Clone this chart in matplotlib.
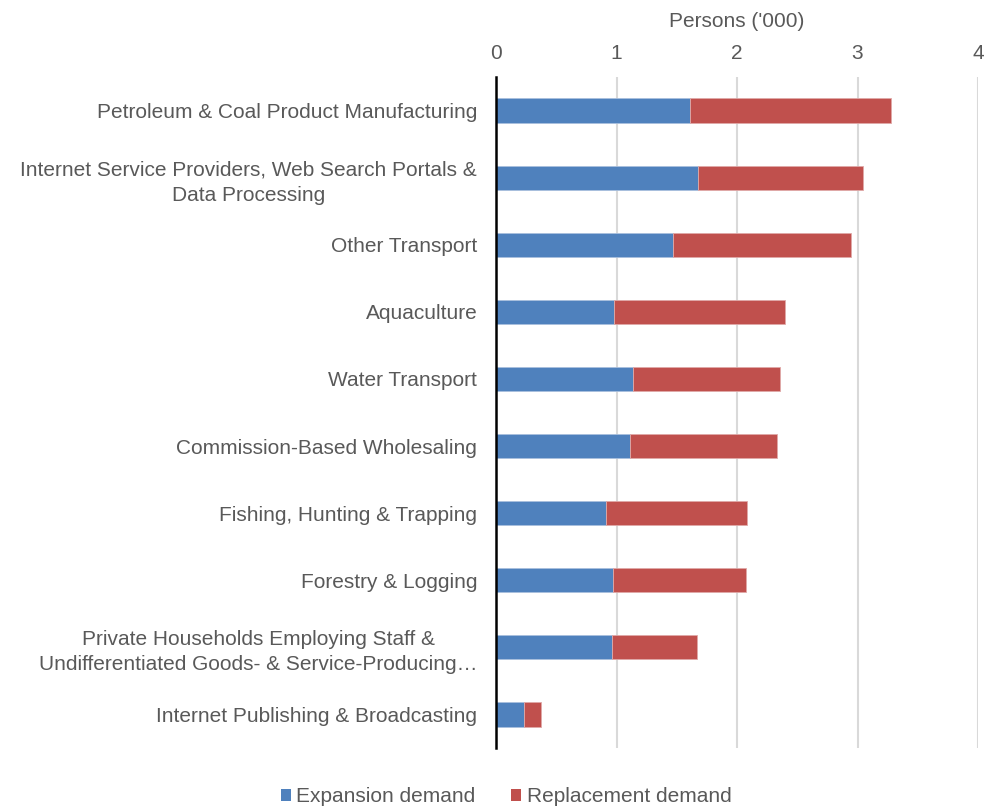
import matplotlib
matplotlib.use("Agg")
import matplotlib.pyplot as plt
from matplotlib.patches import Patch

plt.rcParams['font.family'] = ['Liberation Sans', 'DejaVu Sans']

categories = [
    "Petroleum & Coal Product Manufacturing",
    "Internet Service Providers, Web Search Portals &\nData Processing",
    "Other Transport",
    "Aquaculture",
    "Water Transport",
    "Commission-Based Wholesaling",
    "Fishing, Hunting & Trapping",
    "Forestry & Logging",
    "Private Households Employing Staff &\nUndifferentiated Goods- & Service-Producing\u2026",
    "Internet Publishing & Broadcasting",
]
expansion = [1.61, 1.68, 1.47, 0.98, 1.14, 1.11, 0.915, 0.975, 0.965, 0.23]
replacement = [1.665, 1.365, 1.48, 1.415, 1.215, 1.225, 1.165, 1.10, 0.70, 0.145]
xticks = [0, 1, 2, 3, 4]

blue = "#4f81bd"
red = "#c0504d"
txt = "#595959"
fs = 15

fig = plt.figure(figsize=(9.86, 8.10), dpi=100)
ax = fig.add_axes([496/986, 1-748/810, (978-496)/986, (748-77)/810])

y = list(range(len(categories)))
ax.barh(y, expansion, height=0.36, color=blue, edgecolor="#a9c0de", linewidth=0.6, zorder=3)
ax.barh(y, replacement, left=expansion, height=0.36, color=red, edgecolor="#e0a9a8", linewidth=0.6, zorder=3)

ax.set_ylim(len(categories)-0.5, -0.5)
ax.set_xlim(0, 4)
ax.set_xticks(xticks)
ax.xaxis.tick_top()
ax.xaxis.set_label_position('top')
ax.set_xlabel("Persons ('000)", fontsize=fs, color=txt, labelpad=12.5)
ax.tick_params(axis='x', length=0, labelsize=fs, labelcolor=txt, pad=10)
ax.set_yticks(y)
ax.set_yticklabels(categories, fontsize=fs, color=txt, multialignment='center', linespacing=1.4)
ax.tick_params(axis='y', length=0, pad=13.5)
ax.grid(axis='x', color="#d9d9d9", linewidth=1.5, zorder=0)
for s in ['top', 'right', 'bottom']:
    ax.spines[s].set_visible(False)
ax.spines['left'].set_color('black')
ax.spines['left'].set_linewidth(1.8)
ax.spines['left'].set_zorder(4)

handles = [Patch(facecolor=blue, label="Expansion demand"),
           Patch(facecolor=red, label="Replacement demand")]
fig.legend(handles=handles, loc='center', bbox_to_anchor=(506/986, 1-797/810), ncol=2,
           frameon=False, fontsize=fs, handlelength=0.5, handleheight=0.5,
           handletextpad=0.25, columnspacing=1.7, labelcolor=txt)

fig.savefig("out.png", dpi=100, facecolor='white')
